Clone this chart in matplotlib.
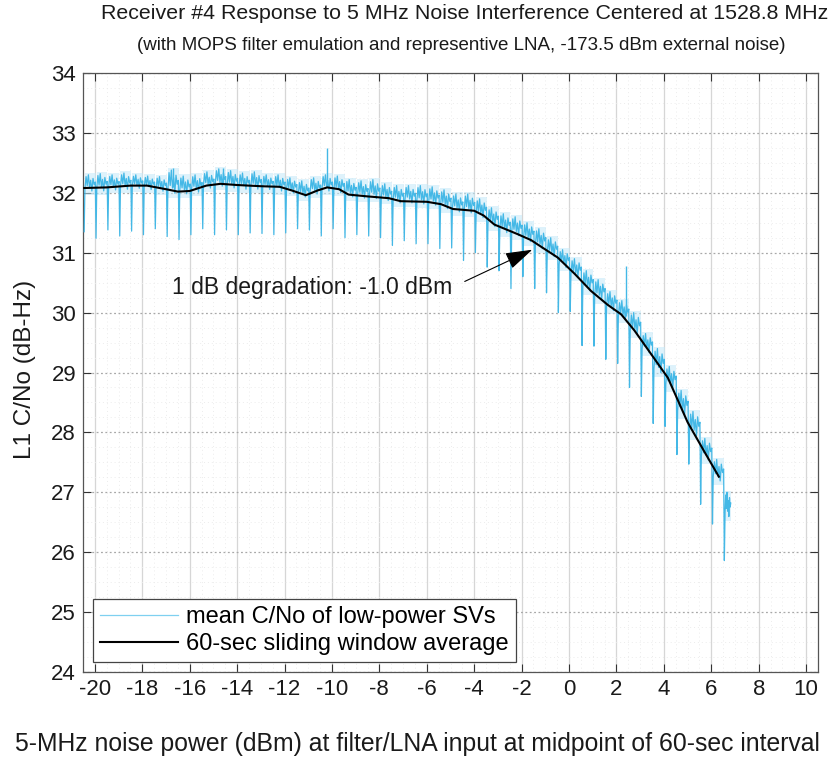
import numpy as np
import matplotlib
matplotlib.use("Agg")
import matplotlib.pyplot as plt
from matplotlib.ticker import MultipleLocator

plt.rcParams['font.family'] = ['Liberation Sans', 'DejaVu Sans']
plt.rcParams['axes.unicode_minus'] = False

# one dip of the raw C/No trace at every 0.5 dB power step
dip_x = np.arange(-20.45, 6.6, 0.5)
dip_low = [31.35, 31.24, 31.38, 31.28, 31.36, 31.30, 31.40, 31.27, 31.22, 31.30,
           31.40, 31.30, 31.38, 31.30, 31.33, 31.32, 31.30, 31.33, 31.40, 31.38,
           31.28, 31.40, 31.25, 31.30, 31.28, 31.25, 31.12, 31.20, 31.15, 31.15,
           31.07, 31.08, 30.87, 31.00, 30.76, 30.70, 30.40, 30.60, 30.40, 30.33,
           30.00, 30.02, 29.45, 29.44, 29.22, 29.15, 28.75, 28.60, 28.15, 28.10,
           27.63, 27.47, 26.80, 26.47, 25.86]
# noisy band between dips (upper / lower edge for each step)
band_top = [32.30, 32.32, 32.30, 32.33, 32.30, 32.28, 32.27, 32.38, 32.28, 32.30,
            32.35, 32.40, 32.37, 32.33, 32.35, 32.30, 32.30, 32.25, 32.20, 32.25,
            32.30, 32.28, 32.22, 32.20, 32.22, 32.15, 32.12, 32.12, 32.12, 32.10,
            32.05, 31.98, 31.98, 31.90, 31.75, 31.65, 31.60, 31.50, 31.40, 31.25,
            31.05, 30.90, 30.70, 30.55, 30.35, 30.20, 30.00, 29.65, 29.40, 29.10,
            28.70, 28.35, 27.90, 27.55, 27.00]
band_low = [32.00, 32.00, 32.02, 32.03, 32.05, 32.03, 32.00, 31.95, 31.95, 31.98,
            32.05, 32.08, 32.05, 32.03, 32.03, 32.03, 32.00, 31.97, 31.90, 31.95,
            32.00, 31.97, 31.90, 31.88, 31.87, 31.84, 31.80, 31.80, 31.78, 31.76,
            31.70, 31.65, 31.63, 31.55, 31.40, 31.30, 31.25, 31.15, 31.03, 30.90,
            30.72, 30.55, 30.33, 30.18, 30.00, 29.85, 29.60, 29.30, 28.95, 28.70,
            28.25, 27.90, 27.50, 27.15, 26.55]
# where the trace sits inside the band during one step (0 = lower edge, 1 = upper)
step_profile = [0.25, 0.9, 0.4, 1.0, 0.3, 0.7, 0.1, 0.8, 0.45, 0.6]
trace_end = 6.85

# short upward spikes in the raw trace
spike_x = [-16.7, -14.6, -10.2, 2.4]
spike_base = [32.10, 32.15, 32.10, 29.95]
spike_top = [32.42, 32.42, 32.75, 30.78]

# 60-sec sliding window average
avg_x = [-20.45, -19.5, -18.5, -17.8, -17.0, -16.5, -16.0, -15.3, -14.7, -14.0,
         -13.0, -12.2, -11.7, -11.1, -10.6, -10.2, -9.7, -9.3, -8.5, -7.6,
         -7.1, -6.0, -5.4, -4.9, -4.0, -3.6, -3.15, -2.6, -2.17, -1.6,
         -1.18, -0.48, 0.23, 0.93, 1.63, 2.2, 2.76, 3.6, 4.17, 5.0,
         5.69, 6.32]
avg_y = [32.08, 32.09, 32.12, 32.12, 32.06, 32.02, 32.03, 32.12, 32.15, 32.13,
         32.11, 32.10, 32.04, 31.96, 32.04, 32.09, 32.06, 31.97, 31.94, 31.91,
         31.86, 31.85, 31.81, 31.73, 31.70, 31.62, 31.47, 31.38, 31.31, 31.21,
         31.10, 30.92, 30.65, 30.36, 30.13, 29.97, 29.70, 29.23, 28.91, 28.17,
         27.69, 27.26]

fig = plt.figure(figsize=(8.34, 7.66), dpi=100)
ax = fig.add_axes([83 / 834, 1 - 672 / 766, 735 / 834, 599 / 766])

trace_col = '#44b8e6'
haze_col = '#c4e9f9'

# build the raw trace: a dip at each step, then the noisy band up to the next step
tx, ty = [], []
n = len(dip_x)
for i in range(n):
    x0 = dip_x[i]
    x1 = dip_x[i + 1] if i < n - 1 else trace_end
    tx.append(x0)
    ty.append(dip_low[i])
    pts = np.linspace(x0 + 0.03, x1 - 0.03, len(step_profile))
    for xx, f in zip(pts, step_profile):
        tx.append(xx)
        ty.append(band_low[i] + f * (band_top[i] - band_low[i]))
    ax.fill_between([x0 + 0.02, x1 - 0.02], band_low[i] - 0.03, band_top[i] + 0.03,
                    color=haze_col, alpha=0.55, lw=0, zorder=2)

ax.plot(tx, ty, color=trace_col, lw=0.9, zorder=3,
        label='mean C/No of low-power SVs')
ax.vlines(spike_x, spike_base, spike_top, color=trace_col, lw=1.0, zorder=3)
ax.plot(avg_x, avg_y, color='black', lw=1.5, zorder=4,
        label='60-sec sliding window average')

ax.set_xlim(-20.5, 10.5)
ax.set_ylim(24, 34)
ax.xaxis.set_major_locator(MultipleLocator(2))
ax.yaxis.set_major_locator(MultipleLocator(1))
ax.xaxis.set_minor_locator(MultipleLocator(0.5))
ax.yaxis.set_minor_locator(MultipleLocator(0.25))
ax.grid(True, which='major', axis='x', color='#d6d6d6', lw=0.9, ls='-')
ax.grid(True, which='major', axis='y', color='#a8a8a8', lw=0.9, ls=(0, (1.5, 2)))
ax.grid(True, which='minor', color='#ececec', lw=0.7, ls=(0, (1, 3)))
ax.set_axisbelow(True)
ax.tick_params(which='major', direction='in', length=6, width=0.8,
               top=True, right=True, labelsize=16, pad=5, colors='#333333',
               labelcolor='#1a1a1a')
ax.tick_params(which='minor', length=0)
for s in ax.spines.values():
    s.set_color('#555555')
    s.set_linewidth(0.9)

ax.set_xlabel('5-MHz noise power (dBm) at filter/LNA input at midpoint of 60-sec interval',
              fontsize=17.8, color='#1a1a1a')
ax.xaxis.set_label_coords(0.455, -0.12)
ax.xaxis.label.set_va('center')
ax.set_ylabel('L1 C/No (dB-Hz)', fontsize=17.5, color='#1a1a1a')
ax.yaxis.set_label_coords(-0.079, 0.505)
ax.yaxis.label.set_va('center')

fig.text(0.557, 0.995, 'Receiver #4 Response to 5 MHz Noise Interference Centered at 1528.8 MHz',
         ha='center', va='top', fontsize=15.4, color='#1a1a1a')
fig.text(0.553, 0.952, '(with MOPS filter emulation and representive LNA, -173.5 dBm external noise)',
         ha='center', va='top', fontsize=13.5, color='#1a1a1a')

ax.text(-16.75, 30.42, '1 dB degradation: -1.0 dBm', ha='left', va='center',
        fontsize=16.5, color='#1a1a1a', zorder=5)
ax.annotate('', xy=(-1.55, 31.05), xytext=(-4.4, 30.52),
            arrowprops=dict(arrowstyle='-|>,head_length=0.7,head_width=0.22',
                            color='black', lw=0.8, mutation_scale=24,
                            shrinkA=0, shrinkB=0), zorder=6)

leg = ax.legend(loc='lower left', bbox_to_anchor=(0.0136, 0.0167), borderaxespad=0,
                fontsize=17, handlelength=3.3, handletextpad=0.35, labelspacing=0.2,
                fancybox=False, framealpha=1, edgecolor='#444444', borderpad=0.3)
leg.get_frame().set_linewidth(0.9)
leg.legend_handles[0].set_color('#7fd0f0')

fig.savefig('out.png', dpi=100)
